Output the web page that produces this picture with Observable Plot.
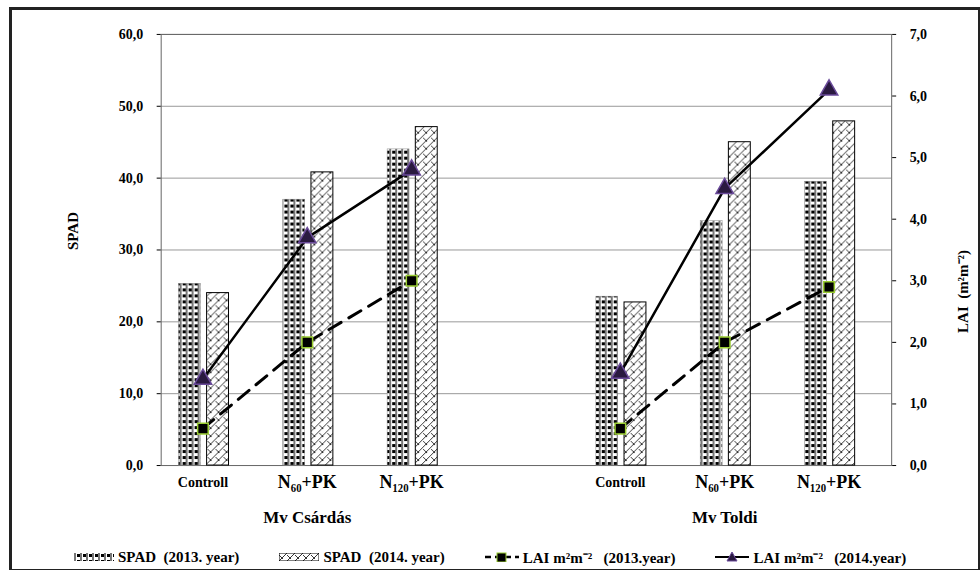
<!DOCTYPE html>
<html><head><meta charset="utf-8">
<script src="https://cdn.jsdelivr.net/npm/d3@7"></script>
<script src="https://cdn.jsdelivr.net/npm/@observablehq/plot@0.6"></script>
<style>
body{margin:0;background:#fff;font-family:"Liberation Serif","Times New Roman",serif;}
#wrap{position:absolute;left:9px;top:7px;width:966px;height:559px;border:3px solid #222;border-right-width:2px;border-bottom-width:2px}
#chart{position:absolute;top:-10px;left:-12px}
#legend{position:absolute;top:537px;left:62px;font-size:15px;font-weight:bold;display:flex;gap:40px;align-items:center;white-space:nowrap}
#legend span{display:inline-flex;align-items:center;gap:4px}
</style></head><body>
<div id="wrap"><div id="chart"></div>
<div id="legend">
<span><svg width="40" height="8"><rect width="40" height="8" fill="url(#p13)"/></svg>SPAD&nbsp; (2013. year)</span>
<span><svg width="40" height="8"><rect width="40" height="8" fill="url(#p14)" stroke="#000"/></svg>SPAD&nbsp; (2014. year)</span>
<span><svg width="34" height="10"><line x1="0" y1="5" x2="34" y2="5" stroke="#000" stroke-width="2.5" stroke-dasharray="6,4"/><rect x="12" y="1" width="9" height="9" fill="#000" stroke="#9acd32"/></svg>LAI m²m⁻² &nbsp; (2013.year)</span>
<span><svg width="34" height="10"><line x1="0" y1="5" x2="34" y2="5" stroke="#000" stroke-width="2"/><path d="M17,0 L22,9 L12,9Z" fill="#2a1a40" stroke="#6a4a9a"/></svg>LAI m²m⁻² &nbsp; (2014.year)</span>
</div></div>
<script>
const labels = ["Controll", "N₆₀+PK", "N₁₂₀+PK", "Controll", "N₆₀+PK", "N₁₂₀+PK"];
const pos = [0, 1, 2, 4, 5, 6];
const group = ["Mv Csárdás", "Mv Csárdás", "Mv Csárdás", "Mv Toldi", "Mv Toldi", "Mv Toldi"];
const spad2013 = [25.3, 37.0, 44.0, 23.5, 34.0, 39.5];
const spad2014 = [24.0, 40.8, 47.1, 22.7, 45.0, 47.9];
const lai2013 = [0.6, 2.0, 3.0, 0.6, 2.0, 2.9];
const lai2014 = [1.4, 3.7, 4.8, 1.5, 4.5, 6.1];
const k = 60 / 7;
const rows = pos.map((p, i) => ({p, g: group[i], s13: spad2013[i], s14: spad2014[i], l13: lai2013[i] * k, l14: lai2014[i] * k}));
const fnum = v => d3.format(".1f")(v).replace(".", ",");
const font = {fontFamily: "'Liberation Serif', 'Times New Roman', serif", fontWeight: "bold"};

const chart = Plot.plot({
  width: 980, height: 545,
  marginLeft: 161, marginRight: 87, marginTop: 34, marginBottom: 79,
  style: {fontSize: "13px", ...font, background: "transparent"},
  x: {domain: [-0.4, 6.6], axis: null},
  y: {domain: [0, 60], axis: null},
  marks: [
    Plot.ruleY(d3.range(10, 61, 10), {stroke: "#999", strokeWidth: 1}),
    Plot.frame({stroke: "#666"}),
    Plot.rectY(rows, {x1: d => d.p - 0.23, x2: d => d.p - 0.02, y: "s13", fill: "url(#p13)", stroke: "#888", strokeWidth: 0.5}),
    Plot.rectY(rows, {x1: d => d.p + 0.04, x2: d => d.p + 0.25, y: "s14", fill: "url(#p14)", stroke: "#000", strokeWidth: 1}),
    Plot.line(rows, {x: "p", y: "l13", z: "g", stroke: "#000", strokeWidth: 3, strokeDasharray: "14,9"}),
    Plot.line(rows, {x: "p", y: "l14", z: "g", stroke: "#000", strokeWidth: 2.5}),
    Plot.dot(rows, {x: "p", y: "l13", symbol: "square", r: 6, fill: "#000", stroke: "#9acd32", strokeWidth: 1.5}),
    Plot.dot(rows, {x: "p", y: "l14", symbol: "triangle", r: 6.5, fill: "#2a1a40", stroke: "#6a4a9a", strokeWidth: 1.5}),
    Plot.axisY({ticks: d3.range(0, 61, 10), tickFormat: fnum, tickSize: 4, label: null, anchor: "left", tickPadding: 14, fontSize: 14}),
    Plot.axisY({ticks: d3.range(0, 8).map(v => v * k), tickFormat: v => fnum(v / k), tickSize: 4, label: null, anchor: "right", tickPadding: 14, fontSize: 14}),
    Plot.text(pos, {x: d => d, y: 0, text: (d, i) => labels[i], dy: 17, fontSize: d => d === 0 || d === 4 ? 14 : 18}),
    Plot.text(["Mv Csárdás", "Mv Toldi"], {x: [1, 5], y: 0, text: d => d, dy: 52, fontSize: 17}),
    Plot.text(["SPAD"], {frameAnchor: "left", dx: -88, rotate: -90, fontSize: 15}),
    Plot.text(["LAI  (m²m⁻²)"], {frameAnchor: "right", dx: 72, rotate: -90, fontSize: 15})
  ]
});
const svg = d3.select(chart);
const defs = svg.insert("defs", ":first-child");
const p13 = defs.append("pattern").attr("id", "p13").attr("patternUnits", "userSpaceOnUse").attr("width", 6).attr("height", 6);
p13.append("rect").attr("width", 6).attr("height", 6).attr("fill", "#fff");
p13.append("rect").attr("x", 0).attr("width", 2).attr("height", 6).attr("fill", "#777");
p13.append("rect").attr("x", 3).attr("y", 1).attr("width", 3).attr("height", 3).attr("fill", "#000");
const p14 = defs.append("pattern").attr("id", "p14").attr("patternUnits", "userSpaceOnUse").attr("width", 8).attr("height", 8);
p14.append("rect").attr("width", 8).attr("height", 8).attr("fill", "#fff");
p14.append("path").attr("d", "M0,8 L8,0 M-2,2 L2,-2 M6,10 L10,6 M0,2 L4,6").attr("stroke", "#000").attr("stroke-width", 0.8).attr("fill", "none");
document.getElementById("chart").append(chart);
document.querySelectorAll("#legend svg").forEach(s => s.prepend(defs.node().cloneNode(true)));
</script>
</body></html>
